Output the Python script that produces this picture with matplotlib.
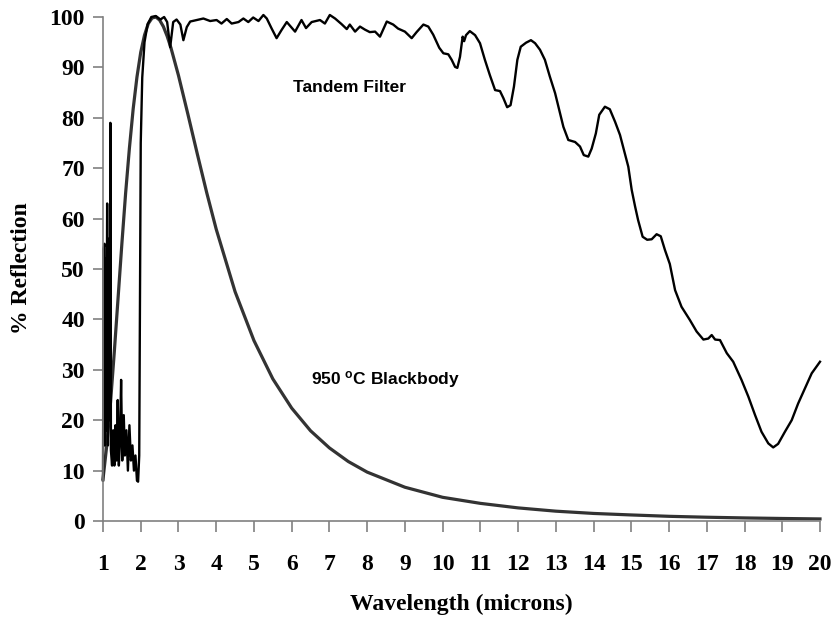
import matplotlib
matplotlib.use("Agg")
import matplotlib.pyplot as plt

# tandem filter reflection
tandem_wl = [1.00, 1.005, 1.01, 1.04, 1.05, 1.07, 1.09, 1.11, 1.13, 1.16, 1.18, 1.195,
             1.21, 1.24, 1.27, 1.30, 1.33, 1.36, 1.39, 1.42, 1.45, 1.48, 1.51, 1.55,
             1.58, 1.62, 1.66, 1.70, 1.74, 1.78, 1.82, 1.86, 1.90, 1.93, 1.96, 1.98,
             2.00, 2.04, 2.10, 2.18, 2.28, 2.40, 2.52, 2.62, 2.70, 2.78, 2.86, 2.95,
             3.05, 3.13, 3.22, 3.31, 3.48, 3.66, 3.84, 4.01, 4.14, 4.28, 4.41, 4.59,
             4.72, 4.85, 4.98, 5.12, 5.25, 5.34, 5.47, 5.60, 5.73, 5.87, 6.09, 6.26,
             6.38, 6.53, 6.75, 6.88, 7.01, 7.15, 7.32, 7.46, 7.54, 7.68, 7.81, 7.94,
             8.07, 8.21, 8.34, 8.52, 8.69, 8.82, 9.00, 9.18, 9.31, 9.49, 9.62, 9.75,
             9.91, 10.02, 10.15, 10.24, 10.33, 10.39, 10.46, 10.53, 10.57, 10.62, 10.72,
             10.86, 10.99, 11.12, 11.25, 11.39, 11.52, 11.61, 11.71, 11.80, 11.89, 11.98,
             12.07, 12.21, 12.34, 12.45, 12.58, 12.71, 12.84, 12.98, 13.11, 13.20, 13.33,
             13.51, 13.64, 13.74, 13.86, 13.95, 14.06, 14.15, 14.30, 14.43, 14.57, 14.70,
             14.83, 14.92, 15.01, 15.10, 15.18, 15.30, 15.42, 15.54, 15.67, 15.78, 15.89,
             16.02, 16.16, 16.33, 16.55, 16.73, 16.91, 17.04, 17.13, 17.22, 17.35, 17.53,
             17.70, 17.92, 18.10, 18.28, 18.45, 18.63, 18.76, 18.89, 19.07, 19.25, 19.42,
             19.60, 19.78, 20.00]
tandem_refl = [8, 22, 54, 55, 15, 52, 18, 63, 15, 56, 20, 79,
               14, 11, 18, 11, 19, 12, 24, 11, 16, 28, 12, 21,
               13, 18, 10, 19, 12, 15, 10, 13, 8, 7.8, 13, 45,
               75, 88, 95, 98.5, 100, 100.2, 99.5, 100, 99, 94, 99, 99.5,
               98.5, 95.4, 98, 99.1, 99.4, 99.7, 99.2, 99.4, 98.7, 99.6, 98.7, 99.0,
               99.7, 99.0, 99.9, 99.2, 100.4, 99.7, 97.7, 95.8, 97.4, 99.0, 97.1, 99.4,
               97.8, 99.0, 99.4, 98.7, 100.4, 99.7, 98.6, 97.6, 98.5, 97.1, 98.1, 97.5,
               97.0, 97.1, 96.1, 99.1, 98.5, 97.7, 97.1, 95.8, 97.0, 98.5, 98.1, 96.5,
               93.9, 92.8, 92.6, 91.5, 90.1, 89.9, 92.1, 96.1, 95.2, 96.4, 97.2,
               96.4, 94.8, 91.5, 88.5, 85.5, 85.3, 83.9, 82.1, 82.5, 86.2, 91.5,
               94.1, 94.9, 95.4, 94.8, 93.5, 91.5, 88.2, 84.9, 80.9, 78.2, 75.6,
               75.2, 74.3, 72.6, 72.3, 73.9, 76.9, 80.6, 82.2, 81.7, 79.2, 76.6,
               72.9, 70.3, 65.7, 62.4, 59.7, 56.4, 55.8, 55.9, 56.9, 56.5, 53.8,
               51.0, 45.8, 42.5, 39.9, 37.6, 36.0, 36.2, 36.9, 36.0, 35.9, 33.3,
               31.6, 28.0, 24.7, 21.0, 17.7, 15.4, 14.6, 15.3, 17.7, 20.0, 23.3,
               26.3, 29.3, 31.6]

# 950 C blackbody curve (relative)
bb_wl = [1.0, 1.1, 1.2, 1.3, 1.4, 1.5, 1.6, 1.7, 1.8, 1.9, 2.0, 2.1, 2.2, 2.3, 2.4,
         2.5, 2.6, 2.7, 2.8, 3.0, 3.25, 3.5, 3.75, 4.0, 4.5, 5.0, 5.5, 6.0, 6.5,
         7.0, 7.5, 8.0, 9.0, 10, 11, 12, 13, 14, 15, 16, 17, 18, 19, 20]
bb_refl = [8.3, 15.0, 23.6, 33.6, 44.3, 55.0, 65.1, 74.0, 81.8, 88.1, 93.0, 96.4, 98.7, 99.8, 100,
           99.4, 98.1, 96.2, 93.9, 88.4, 80.7, 72.8, 65.1, 57.9, 45.5, 35.8, 28.2, 22.4, 17.9,
           14.5, 11.8, 9.7, 6.7, 4.7, 3.5, 2.6, 1.95, 1.5, 1.2, 0.93, 0.75, 0.61, 0.5, 0.41]

xticks = list(range(1, 21))
yticks = list(range(0, 101, 10))

serif = "Liberation Serif"
sans = "Liberation Sans"
plt.rcParams['mathtext.fontset'] = 'custom'
plt.rcParams['mathtext.rm'] = 'Liberation Sans:bold'
plt.rcParams['mathtext.it'] = 'Liberation Sans:bold'

fig = plt.figure(figsize=(8.36, 6.23), dpi=100)
ax = fig.add_axes([103/836, 1 - 521/623, 717/836, 504/623])

ax.plot(bb_wl, bb_refl, color='#333333', linewidth=2.3, clip_on=False)
ax.plot(tandem_wl, tandem_refl, color='black', linewidth=1.7, clip_on=False)

ax.set_xlim(1, 20)
ax.set_ylim(0, 100)
ax.set_xticks(xticks)
ax.set_yticks(yticks)
ax.set_xticklabels([str(t) for t in xticks], fontfamily=serif, fontweight='bold', fontsize=17)
ax.set_yticklabels([str(t) for t in yticks], fontfamily=serif, fontweight='bold', fontsize=17)

for s in ['top', 'right']:
    ax.spines[s].set_visible(False)
for s in ['left', 'bottom']:
    ax.spines[s].set_color('#808080')
    ax.spines[s].set_linewidth(1.2)
ax.tick_params(axis='x', direction='out', length=8, width=1.2, color='#808080', pad=16)
ax.tick_params(axis='y', direction='out', length=7, width=1.2, color='#808080', pad=6)

fig.text(461.5/836, 1 - 604/623, 'Wavelength (microns)', ha='center', va='center',
         fontfamily=serif, fontweight='bold', fontsize=17)
fig.text(22/836, 1 - 268/623, '% Reflection', ha='center', va='center', rotation=90,
         fontfamily=serif, fontweight='bold', fontsize=17)

ax.text(7.54, 86.1, 'Tandem Filter', ha='center', va='center',
        fontfamily=sans, fontweight='bold', fontsize=12.5)
ax.text(6.5, 28, r'950 $^{o}$C Blackbody', ha='left', va='center',
        fontfamily=sans, fontweight='bold', fontsize=12.5)

fig.savefig('out.png', dpi=100)
